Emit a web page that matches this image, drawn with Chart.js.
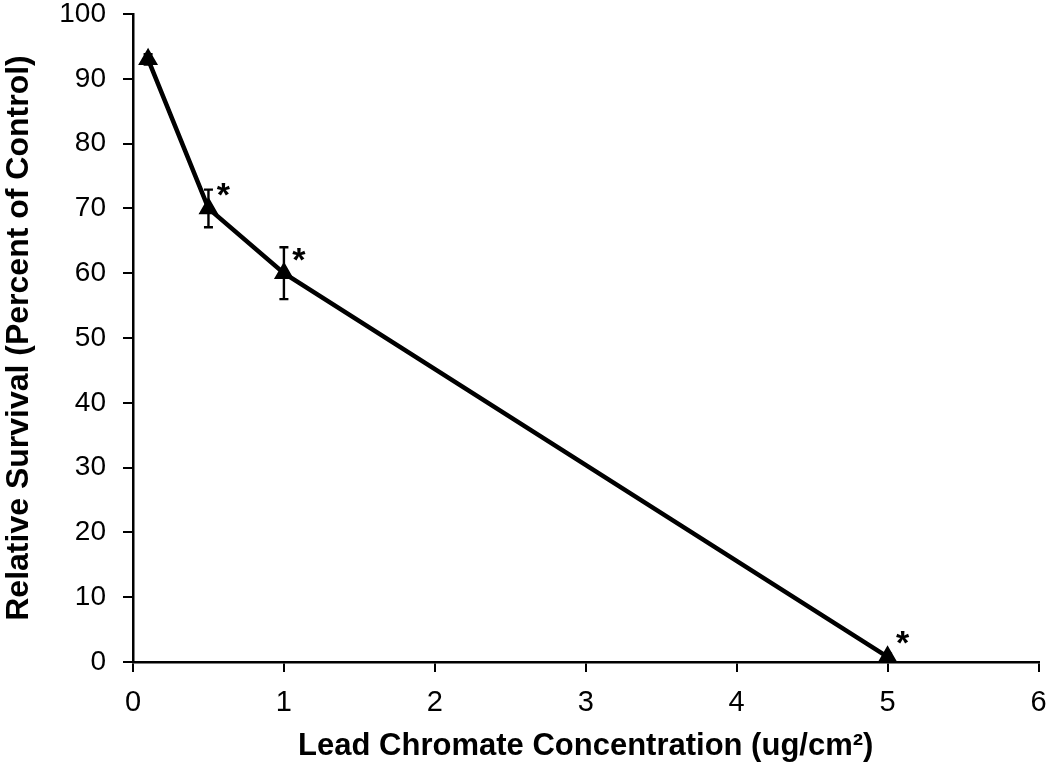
<!DOCTYPE html>
<html>
<head>
<meta charset="utf-8">
<script src="https://cdn.jsdelivr.net/npm/chart.js@4.4.1/dist/chart.umd.min.js"></script>
<style>
  html, body { margin: 0; padding: 0; background: #fff; }
  #wrap { width: 1050px; height: 765px; }
</style>
</head>
<body>
<div id="wrap"><canvas id="c" width="1050" height="765"></canvas></div>
<script>
// Data
const concentrations = [0.1, 0.5, 1, 5];          // ug/cm2
const survival = [93, 70, 60, 0.8];                 // percent of control
const stdErrors = [0.8, 2.9, 4, 0.5];               // error bar half-lengths
const significance = ['', '*', '*', '*'];           // markers
const xTitle = 'Lead Chromate Concentration (ug/cm\u00B2)';
const yTitle = 'Relative Survival (Percent of Control)';

const REGULAR = "'Liberation Sans', Arial, sans-serif";

const points = concentrations.map((x, i) => ({ x: x, y: survival[i] }));

const errorBarPlugin = {
  id: 'errorBars',
  beforeDatasetsDraw(chart) {
    const ctx = chart.ctx;
    const xs = chart.scales.x, ys = chart.scales.y;
    ctx.save();
    ctx.strokeStyle = '#000';
    ctx.lineWidth = 2.4;
    concentrations.forEach((c, i) => {
      const px = xs.getPixelForValue(c);
      const top = ys.getPixelForValue(survival[i] + stdErrors[i]);
      const bot = ys.getPixelForValue(survival[i] - stdErrors[i]);
      ctx.beginPath();
      ctx.moveTo(px, top); ctx.lineTo(px, bot);
      ctx.moveTo(px - 4.5, top); ctx.lineTo(px + 4.5, top);
      ctx.moveTo(px - 4.5, bot); ctx.lineTo(px + 4.5, bot);
      ctx.stroke();
    });
    ctx.restore();
  },
  afterDatasetsDraw(chart) {
    const ctx = chart.ctx;
    const xs = chart.scales.x, ys = chart.scales.y;
    ctx.save();
    ctx.fillStyle = '#000';
    ctx.font = "bold 34px " + REGULAR;
    ctx.textAlign = 'center';
    ctx.textBaseline = 'middle';
    concentrations.forEach((c, i) => {
      if (!significance[i]) return;
      const px = xs.getPixelForValue(c);
      const py = ys.getPixelForValue(survival[i]);
      ctx.fillText(significance[i], px + 15, py - 12);
    });
    ctx.restore();
  }
};

new Chart(document.getElementById('c'), {
  type: 'scatter',
  data: {
    datasets: [{
      data: points,
      showLine: true,
      borderColor: '#000',
      backgroundColor: '#000',
      borderWidth: 4.5,
      pointStyle: 'triangle',
      pointRadius: 7,
      pointHoverRadius: 7,
      tension: 0
    }]
  },
  options: {
    responsive: false,
    animation: false,
    layout: { padding: { top: 14, right: 7, left: 0, bottom: 0 } },
    plugins: { legend: { display: false }, tooltip: { enabled: false } },
    scales: {
      x: {
        type: 'linear',
        min: 0, max: 6,
        ticks: { stepSize: 1, color: '#000', padding: 14, font: { family: REGULAR, size: 29 } },
        grid: { drawOnChartArea: false, drawTicks: true, tickLength: 10, color: '#000', lineWidth: 2 },
        border: { display: true, color: '#000', width: 2.5 },
        title: { display: true, text: xTitle, color: '#000', padding: 0,
                 font: { family: REGULAR, size: 31, weight: 'bold' } },
        afterFit(scale) { scale.height = 103; scale.paddingLeft = 0; scale.paddingRight = 0; }
      },
      y: {
        type: 'linear',
        min: 0, max: 100,
        ticks: { stepSize: 10, color: '#000', padding: 17, font: { family: REGULAR, size: 28 } },
        grid: { drawOnChartArea: false, drawTicks: true, tickLength: 10, color: '#000', lineWidth: 2 },
        border: { display: true, color: '#000', width: 2.5 },
        title: { display: true, text: yTitle, color: '#000', padding: 0,
                 font: { family: REGULAR, size: 32, weight: 'bold' } },
        afterFit(scale) { scale.width = 133; scale.paddingTop = 0; scale.paddingBottom = 0; }
      }
    }
  },
  plugins: [errorBarPlugin]
});
</script>
</body>
</html>
